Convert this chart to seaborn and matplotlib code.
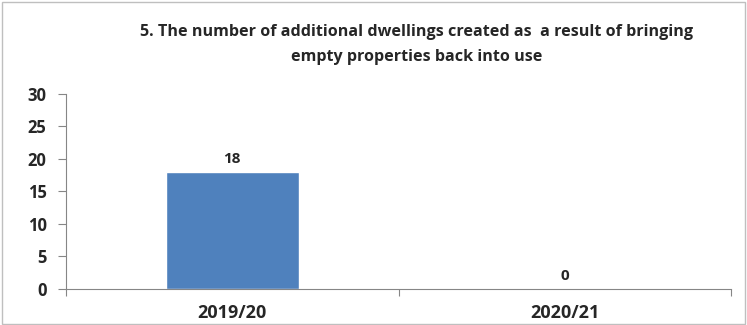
import matplotlib
matplotlib.use("Agg")
import matplotlib.pyplot as plt
import seaborn as sns
import pandas as pd
from matplotlib.patches import Rectangle

categories = ["2019/20", "2020/21"]
values = [18, 0]
yticks = [0, 5, 10, 15, 20, 25, 30]
title = "5. The number of additional dwellings created as  a result of bringing\nempty properties back into use"

sns.set_theme(style="white")
plt.rcParams['font.family'] = ['Open Sans', 'DejaVu Sans']

df = pd.DataFrame({"cat": categories, "val": values})

fig = plt.figure(figsize=(7.47, 3.25), dpi=100)
ax = fig.add_axes([0.0884, 0.1108, 0.8902, 0.6])
sns.barplot(data=df, x="cat", y="val", ax=ax, color="#4F81BD", saturation=1, width=0.4)

ax.set_xlim(-0.5, 1.5)
ax.set_ylim(0, 30)
ax.set_yticks(yticks)
ax.set_yticklabels([str(t) for t in yticks], fontsize=12, fontweight="bold")
ax.set_xticks(range(len(categories)))
ax.set_xticklabels(categories, fontsize=13, fontweight="bold")
ax.set_xticks([-0.5, 0.5, 1.5], minor=True)
ax.tick_params(axis="x", which="major", length=0, pad=11)
ax.tick_params(axis="x", which="minor", length=5, color="#868686", width=0.8, direction="out", bottom=True)
ax.tick_params(axis="y", length=6, color="#868686", width=0.8, direction="out", left=True, pad=8)
ax.set_xlabel("")
ax.set_ylabel("")
for s in ["top", "right"]:
    ax.spines[s].set_visible(False)
for s in ["left", "bottom"]:
    ax.spines[s].set_color("#868686")
    ax.spines[s].set_linewidth(0.8)

for i, v in enumerate(values):
    ax.annotate(str(v), (i, v), xytext=(0, 4), textcoords="offset points",
                ha="center", va="bottom", fontsize=11, fontweight="bold")

fig.text(0.558, 0.862, title, ha="center", va="center", fontsize=11.6,
         fontweight="bold", linespacing=1.75)

fig.patches.append(Rectangle((0.003, 0.004), 0.994, 0.99, transform=fig.transFigure,
                             fill=False, edgecolor="#BFBFBF", linewidth=1))

fig.savefig("out.png", dpi=100)
